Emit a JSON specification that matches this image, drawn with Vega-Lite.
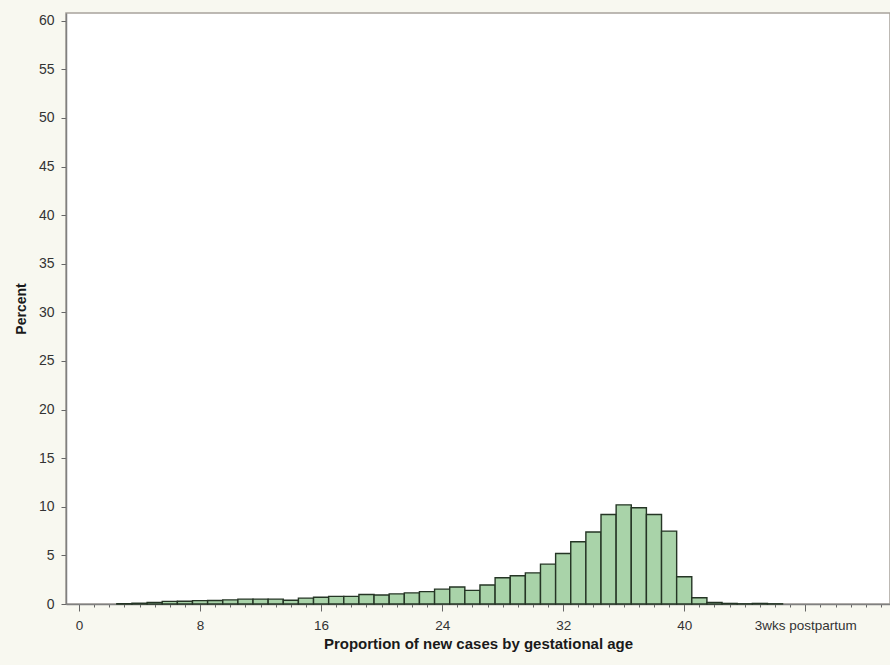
{
  "$schema": "https://vega.github.io/schema/vega-lite/v6.json",
  "autosize": {"type": "none"},
  "width": 824,
  "height": 591,
  "padding": {"left": 66, "top": 13, "right": 0, "bottom": 61},
  "background": "#f8f8f0",
  "view": {"fill": "white", "stroke": "#a8a29c", "strokeWidth": 1.5},
  "config": {"font": "Liberation Sans"},
  "data": {"values": [
    {"week": 3, "pct": 0.02}, {"week": 4, "pct": 0.08}, {"week": 5, "pct": 0.17},
    {"week": 6, "pct": 0.27}, {"week": 7, "pct": 0.28}, {"week": 8, "pct": 0.35},
    {"week": 9, "pct": 0.36}, {"week": 10, "pct": 0.42}, {"week": 11, "pct": 0.5},
    {"week": 12, "pct": 0.5}, {"week": 13, "pct": 0.5}, {"week": 14, "pct": 0.38},
    {"week": 15, "pct": 0.6}, {"week": 16, "pct": 0.7}, {"week": 17, "pct": 0.78},
    {"week": 18, "pct": 0.78}, {"week": 19, "pct": 0.97}, {"week": 20, "pct": 0.92},
    {"week": 21, "pct": 1.04}, {"week": 22, "pct": 1.14}, {"week": 23, "pct": 1.27},
    {"week": 24, "pct": 1.53}, {"week": 25, "pct": 1.75}, {"week": 26, "pct": 1.4},
    {"week": 27, "pct": 1.95}, {"week": 28, "pct": 2.7}, {"week": 29, "pct": 2.9},
    {"week": 30, "pct": 3.2}, {"week": 31, "pct": 4.1}, {"week": 32, "pct": 5.2},
    {"week": 33, "pct": 6.4}, {"week": 34, "pct": 7.4}, {"week": 35, "pct": 9.2},
    {"week": 36, "pct": 10.2}, {"week": 37, "pct": 9.9}, {"week": 38, "pct": 9.2},
    {"week": 39, "pct": 7.5}, {"week": 40, "pct": 2.8}, {"week": 41, "pct": 0.65},
    {"week": 42, "pct": 0.17}, {"week": 43, "pct": 0.06}, {"week": 44, "pct": 0.02},
    {"week": 45, "pct": 0.06}, {"week": 46, "pct": 0.02}
  ]},
  "transform": [
    {"calculate": "datum.week - 0.5", "as": "lo"},
    {"calculate": "datum.week + 0.5", "as": "hi"}
  ],
  "mark": {"type": "bar", "fill": "#a9d3a9", "stroke": "#253525", "strokeWidth": 1.4},
  "encoding": {
    "x": {
      "field": "lo", "type": "quantitative",
      "scale": {"domain": [-0.86, 53.6], "nice": false, "zero": false},
      "axis": {
        "title": "Proportion of new cases by gestational age",
        "titleFontSize": 15, "titleFontWeight": "bold", "titleColor": "#1a1a1a",
        "titlePadding": 5,
        "values": [0,1,2,3,4,5,6,7,8,9,10,11,12,13,14,15,16,17,18,19,20,21,22,23,24,25,26,27,28,29,30,31,32,33,34,35,36,37,38,39,40,41,42,43,44,45,46,47,48,49,50,51,52,53],
        "labelExpr": "datum.value == 48 ? '3wks postpartum' : (datum.value % 8 == 0 ? datum.label : '')",
        "labelOverlap": false, "labelFontSize": 13.5, "labelColor": "#333333", "labelPadding": 7,
        "tickSize": {"condition": {"test": "datum.value % 8 == 0", "value": 7}, "value": 3},
        "tickColor": "#666666", "domainColor": "#808080", "domainWidth": 1.5,
        "grid": false
      }
    },
    "x2": {"field": "hi"},
    "y": {
      "field": "pct", "type": "quantitative",
      "scale": {"domain": [0, 60.8], "nice": false},
      "axis": {
        "title": "Percent", "titleFontSize": 14, "titleFontWeight": "bold", "titleColor": "#1a1a1a",
        "titlePadding": 10,
        "values": [0,5,10,15,20,25,30,35,40,45,50,55,60],
        "labelFontSize": 14, "labelColor": "#333333", "labelPadding": 7,
        "tickSize": 5, "tickColor": "#666666", "domainColor": "#808080", "domainWidth": 1.5,
        "grid": false
      }
    },
    "y2": {"datum": 0}
  }
}
